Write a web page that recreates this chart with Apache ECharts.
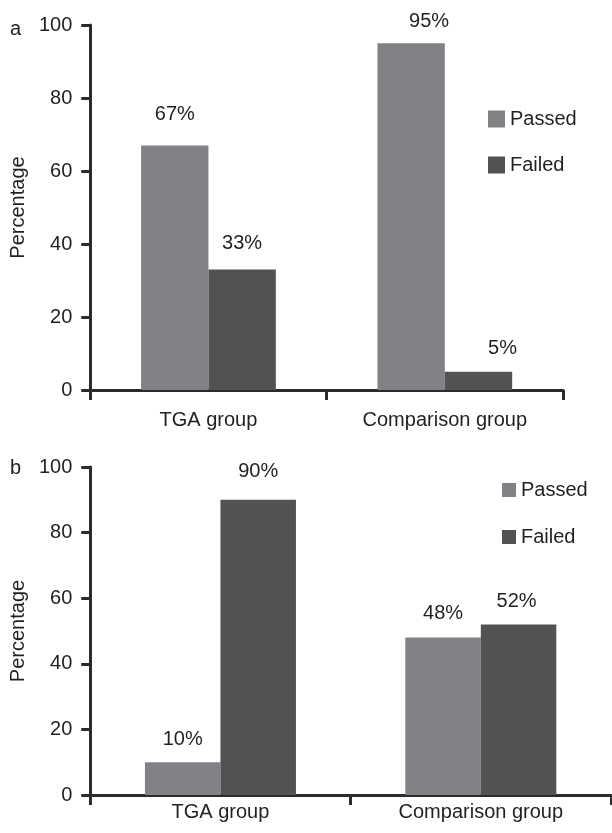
<!DOCTYPE html>
<html>
<head>
<meta charset="utf-8">
<script src="https://cdn.jsdelivr.net/npm/echarts@6/dist/echarts.min.js"></script>
<style>
  html, body { margin: 0; padding: 0; background: #fff; }
  #chart { width: 612px; height: 833px; }
</style>
</head>
<body>
<div id="chart"></div>
<script>
// Categories and results (percent of each group)
const groups = ['TGA group', 'Comparison group'];
const seriesNames = ['Passed', 'Failed'];
const yTicks = [0, 20, 40, 60, 80, 100];

// Panel a
const passedA = [67, 95];
const failedA = [33, 5];
// Panel b
const passedB = [10, 48];
const failedB = [90, 52];

// Label placement tweaks: [dx, distance above bar]
const labelPosA = { passed: [[0, 21], [18, 12]], failed: [[0, 16], [24, 13]] };
const labelPosB = { passed: [[0, 13], [0, 14]], failed: [[0, 18], [-2, 13]] };

const FONT = 'Liberation Sans, Arial, Helvetica, sans-serif';
const TXT = '#231f20';
const AXIS = '#2b2b2b';
const C_PASS = '#818286';
const C_FAIL = '#525254';

const chart = echarts.init(document.getElementById('chart'), null, { renderer: 'canvas' });

function makeData(values, pos) {
  return values.map((v, i) => ({
    value: v,
    label: { offset: [pos[i][0], 0], distance: pos[i][1] }
  }));
}

function barSeries(name, values, pos, color, idx, gap) {
  return {
    name: name,
    type: 'bar',
    xAxisIndex: idx,
    yAxisIndex: idx,
    data: makeData(values, pos),
    barGap: '0%',
    barCategoryGap: gap,
    itemStyle: { color: color },
    label: {
      show: true,
      position: 'top',
      formatter: '{c}%',
      color: TXT,
      fontFamily: FONT,
      fontSize: 20
    },
    emphasis: { disabled: true }
  };
}

function xAxisCfg(idx, margin) {
  return {
    type: 'category',
    gridIndex: idx,
    data: groups,
    axisLine: { lineStyle: { color: AXIS, width: 3 } },
    axisTick: { show: true, inside: false, length: 10, alignWithLabel: false, lineStyle: { color: AXIS, width: 3 } },
    axisLabel: { color: TXT, fontFamily: FONT, fontSize: 20, margin: margin }
  };
}

function yAxisCfg(idx) {
  return {
    type: 'value',
    gridIndex: idx,
    min: 0,
    max: 100,
    interval: 20,
    name: 'Percentage',
    nameLocation: 'middle',
    nameGap: 59,
    nameRotate: 90,
    nameTextStyle: { color: TXT, fontFamily: FONT, fontSize: 20 },
    axisLine: { show: true, lineStyle: { color: AXIS, width: 3 } },
    axisTick: { show: true, length: 9, lineStyle: { color: AXIS, width: 3 } },
    axisLabel: {
      color: TXT, fontFamily: FONT, fontSize: 20, margin: 18,
      formatter: v => (yTicks.includes(v) ? String(v) : '')
    },
    splitLine: { show: false }
  };
}

const option = {
  animation: false,
  backgroundColor: '#ffffff',
  textStyle: { fontFamily: FONT },
  grid: [
    { left: 90, top: 25, width: 473, height: 365 },
    { left: 90, top: 467, width: 521, height: 328 }
  ],
  xAxis: [xAxisCfg(0, 20), xAxisCfg(1, 7)],
  yAxis: [yAxisCfg(0), yAxisCfg(1)],
  legend: [
    {
      orient: 'vertical', left: 488, top: 109, padding: 0,
      itemWidth: 17, itemHeight: 17, itemGap: 26,
      icon: 'rect', selectedMode: false,
      data: seriesNames,
      textStyle: { color: TXT, fontFamily: FONT, fontSize: 20 }
    },
    {
      orient: 'vertical', left: 502, top: 480, padding: 0,
      itemWidth: 14, itemHeight: 14, itemGap: 27,
      icon: 'rect', selectedMode: false,
      data: seriesNames,
      textStyle: { color: TXT, fontFamily: FONT, fontSize: 20 }
    }
  ],
  graphic: [
    { type: 'text', left: 10, top: 19, style: { text: 'a', fill: TXT, font: '20px ' + FONT } },
    { type: 'text', left: 10, top: 458, style: { text: 'b', fill: TXT, font: '20px ' + FONT } }
  ],
  series: [
    barSeries('Passed', passedA, labelPosA.passed, C_PASS, 0, '43%'),
    barSeries('Failed', failedA, labelPosA.failed, C_FAIL, 0, '43%'),
    barSeries('Passed', passedB, labelPosB.passed, C_PASS, 1, '42%'),
    barSeries('Failed', failedB, labelPosB.failed, C_FAIL, 1, '42%')
  ]
};

chart.setOption(option);
</script>
</body>
</html>
